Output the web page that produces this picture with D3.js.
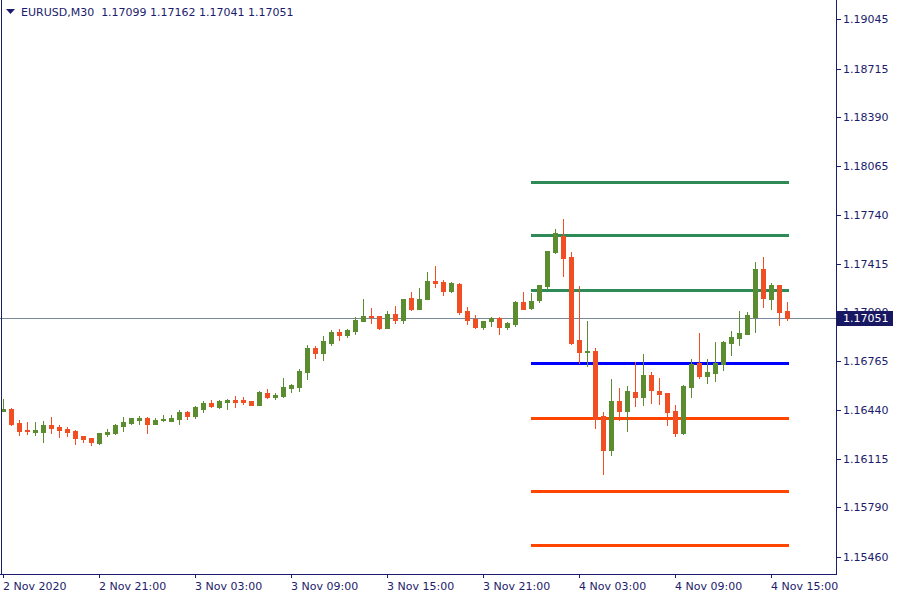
<!DOCTYPE html>
<html><head><meta charset="utf-8">
<script src="https://cdn.jsdelivr.net/npm/d3@7"></script>
<style>body{margin:0;background:#fff}svg{display:block}text{font-family:"DejaVu Sans",sans-serif;font-size:11px}</style>
</head><body><svg id="c" width="900" height="600"></svg>
<script>
// EURUSD M30, first bar 2 Nov 2020 15:00
const opens = [1.16433,1.16446,1.16353,1.16306,1.16293,1.16293,1.16340,1.16326,1.16313,1.16300,
1.16266,1.16253,1.16220,1.16280,1.16286,1.16333,1.16353,1.16373,1.16386,1.16346,
1.16373,1.16366,1.16380,1.16426,1.16399,1.16446,1.16486,1.16459,1.16493,1.16506,
1.16506,1.16499,1.16473,1.16553,1.16526,1.16533,1.16586,1.16593,1.16693,1.16853,
1.16819,1.16886,1.16959,1.16939,1.16966,1.17033,1.17066,1.17066,1.16986,1.17079,
1.17039,1.17186,1.17112,1.17179,1.17299,1.17292,1.17232,1.17279,1.17099,1.17046,
1.16993,1.17033,1.17053,1.16993,1.17013,1.17159,1.17119,1.17172,1.17266,1.17492,
1.17599,1.17459,1.16906,1.16826,1.16833,1.16399,1.16173,1.16499,1.16433,1.16559,
1.16526,1.16673,1.16566,1.16553,1.16433,1.16286,1.16593,1.16753,1.16666,1.16686,
1.16746,1.16886,1.16919,1.16946,1.17059,1.17379,1.17179,1.17272,1.17099];
const highs = [1.16513,1.16453,1.16373,1.16360,1.16360,1.16366,1.16393,1.16340,1.16326,1.16306,
1.16266,1.16253,1.16286,1.16313,1.16346,1.16393,1.16386,1.16399,1.16393,1.16386,
1.16406,1.16406,1.16439,1.16433,1.16466,1.16499,1.16506,1.16506,1.16513,1.16533,
1.16526,1.16499,1.16566,1.16579,1.16553,1.16653,1.16613,1.16713,1.16873,1.16866,
1.16933,1.16973,1.16979,1.16979,1.17059,1.17179,1.17119,1.17066,1.17099,1.17132,
1.17179,1.17226,1.17252,1.17359,1.17399,1.17306,1.17292,1.17286,1.17126,1.17073,
1.17033,1.17059,1.17059,1.17026,1.17166,1.17226,1.17219,1.17272,1.17499,1.17646,
1.17712,1.17492,1.17266,1.17033,1.16853,1.16426,1.16646,1.16586,1.16599,1.16759,
1.16813,1.16693,1.16653,1.16553,1.16473,1.16606,1.16779,1.16953,1.16779,1.16893,
1.16899,1.16966,1.17099,1.17092,1.17426,1.17459,1.17286,1.17272,1.17162];
const lows = [1.16433,1.16340,1.16273,1.16280,1.16273,1.16226,1.16286,1.16260,1.16266,1.16213,
1.16226,1.16206,1.16213,1.16266,1.16280,1.16300,1.16346,1.16346,1.16286,1.16346,
1.16366,1.16366,1.16346,1.16380,1.16386,1.16426,1.16459,1.16453,1.16446,1.16459,
1.16479,1.16473,1.16473,1.16519,1.16513,1.16526,1.16559,1.16566,1.16646,1.16786,
1.16773,1.16873,1.16906,1.16926,1.16946,1.17033,1.17019,1.16979,1.16986,1.17019,
1.17019,1.17106,1.17112,1.17179,1.17259,1.17206,1.17226,1.17079,1.17013,1.16986,
1.16979,1.16999,1.16946,1.16979,1.16999,1.17112,1.17112,1.17159,1.17246,1.17486,
1.17332,1.16879,1.16753,1.16733,1.16320,1.16013,1.16140,1.16373,1.16300,1.16466,
1.16473,1.16486,1.16479,1.16340,1.16266,1.16280,1.16526,1.16653,1.16619,1.16633,
1.16706,1.16806,1.16873,1.16946,1.16959,1.17126,1.17112,1.17006,1.17041];
const closes = [1.16446,1.16346,1.16300,1.16300,1.16306,1.16340,1.16320,1.16306,1.16293,1.16253,
1.16246,1.16226,1.16286,1.16293,1.16340,1.16360,1.16386,1.16386,1.16346,1.16373,
1.16380,1.16386,1.16426,1.16399,1.16459,1.16486,1.16466,1.16499,1.16506,1.16493,
1.16493,1.16473,1.16559,1.16526,1.16539,1.16593,1.16606,1.16699,1.16853,1.16819,
1.16899,1.16959,1.16939,1.16973,1.17039,1.17066,1.17059,1.16986,1.17079,1.17039,
1.17179,1.17112,1.17179,1.17299,1.17286,1.17232,1.17286,1.17092,1.17039,1.16993,
1.17033,1.17053,1.16993,1.17019,1.17159,1.17112,1.17166,1.17272,1.17499,1.17619,
1.17452,1.16886,1.16826,1.16833,1.16380,1.16173,1.16499,1.16433,1.16566,1.16526,
1.16673,1.16573,1.16546,1.16426,1.16286,1.16599,1.16746,1.16666,1.16693,1.16753,
1.16893,1.16926,1.16953,1.17073,1.17379,1.17186,1.17272,1.17092,1.17051];

const priceTicks = [1.19045,1.18715,1.18390,1.18065,1.17740,1.17415,1.17090,1.16765,1.16440,1.16115,1.15790,1.15460];
const timeTickIdx = [0,12,24,36,48,60,72,84,96];
const timeTickLabels = ["2 Nov 2020","2 Nov 21:00","3 Nov 03:00","3 Nov 09:00","3 Nov 15:00","3 Nov 21:00","4 Nov 03:00","4 Nov 09:00","4 Nov 15:00"];

// horizontal levels (from bar 66 = 4 Nov 00:00 to last bar)
const levelValues = [1.17959,1.17606,1.17239,1.16753,1.16386,1.15900,1.15540];
const levelColors = ["#2e8b57","#2e8b57","#2e8b57","#0000ff","#ff4500","#ff4500","#ff4500"];
const levelStart = 66;

const header = "EURUSD,M30  1.17099 1.17162 1.17041 1.17051";
const lastPrice = 1.17051;

const svg = d3.select("#c");
const W = 900, H = 600, axisX = 836, axisY = 574;
const navy = "#1c1c6c";
const bull = "#5b8c30", bear = "#f24e24";

const x = d3.scaleLinear().domain([0, 98]).range([3, 787]);
const y = d3.scaleLinear().domain([1.19045, 1.15460]).range([19, 557]);

const bars = opens.map((o,i)=>({i,o,h:highs[i],l:lows[i],c:closes[i]}));

const plot = svg.append("g").attr("shape-rendering","crispEdges");

// current price line
plot.append("rect").attr("x",0).attr("width",axisX).attr("y",Math.round(y(lastPrice))).attr("height",1).attr("fill","#778899");

// levels
plot.selectAll("rect.lvl").data(levelValues).join("rect").attr("class","lvl")
  .attr("x", Math.round(x(levelStart))).attr("width", Math.round(x(98))-Math.round(x(levelStart))+2)
  .attr("y", d=>Math.round(y(d))-1).attr("height",3)
  .attr("fill",(d,i)=>levelColors[i]);

// candles
const g = plot.selectAll("g.bar").data(bars).join("g").attr("class","bar");
g.append("rect")
  .attr("x", d=>Math.round(x(d.i)))
  .attr("width",1)
  .attr("y", d=>Math.round(y(d.h)))
  .attr("height", d=>Math.max(1, Math.round(y(d.l))-Math.round(y(d.h))+1))
  .attr("fill", d=>d.c>=d.o?bull:bear);
g.append("rect")
  .attr("x", d=>Math.round(x(d.i))-2)
  .attr("width",5)
  .attr("y", d=>Math.round(y(Math.max(d.o,d.c))))
  .attr("height", d=>Math.max(1, Math.round(y(Math.min(d.o,d.c)))-Math.round(y(Math.max(d.o,d.c)))+1))
  .attr("fill", d=>d.c>=d.o?bull:bear);

// frame
plot.append("rect").attr("x",axisX).attr("y",0).attr("width",1).attr("height",axisY+1).attr("fill",navy);
plot.append("rect").attr("x",0).attr("y",axisY).attr("width",axisX+1).attr("height",1).attr("fill",navy);
plot.append("rect").attr("x",1).attr("y",0).attr("width",1).attr("height",axisY).attr("fill",navy);

// right axis
const ya = svg.append("g");
ya.selectAll("rect").data(priceTicks).join("rect").attr("shape-rendering","crispEdges")
  .attr("x",axisX+1).attr("width",4).attr("y",d=>Math.round(y(d))).attr("height",1).attr("fill",navy);
ya.selectAll("text").data(priceTicks).join("text")
  .attr("x",843).attr("y",d=>Math.round(y(d))+4).attr("fill",navy).text(d=>d.toFixed(5));

// last price label
const ly = Math.round(y(lastPrice));
svg.append("rect").attr("shape-rendering","crispEdges").attr("x",837).attr("y",ly-7).attr("width",56).attr("height",15).attr("fill","#181862");
svg.append("text").attr("x",843).attr("y",ly+4).attr("fill","#fff").text(lastPrice.toFixed(5));

// bottom axis
const xa = svg.append("g");
xa.selectAll("rect").data(timeTickIdx).join("rect").attr("shape-rendering","crispEdges")
  .attr("x",d=>Math.round(x(d))).attr("width",1).attr("y",axisY+1).attr("height",3).attr("fill",navy);
xa.selectAll("text").data(timeTickIdx).join("text")
  .attr("x",d=>Math.round(x(d))).attr("y",590).attr("fill",navy).text((d,i)=>timeTickLabels[i]);

// header
svg.append("path").attr("d","M6,9 L15,9 L10.5,14 Z").attr("fill",navy);
svg.append("text").attr("x",21).attr("y",16).attr("fill",navy).style("white-space","pre").text(header);
</script></body></html>
